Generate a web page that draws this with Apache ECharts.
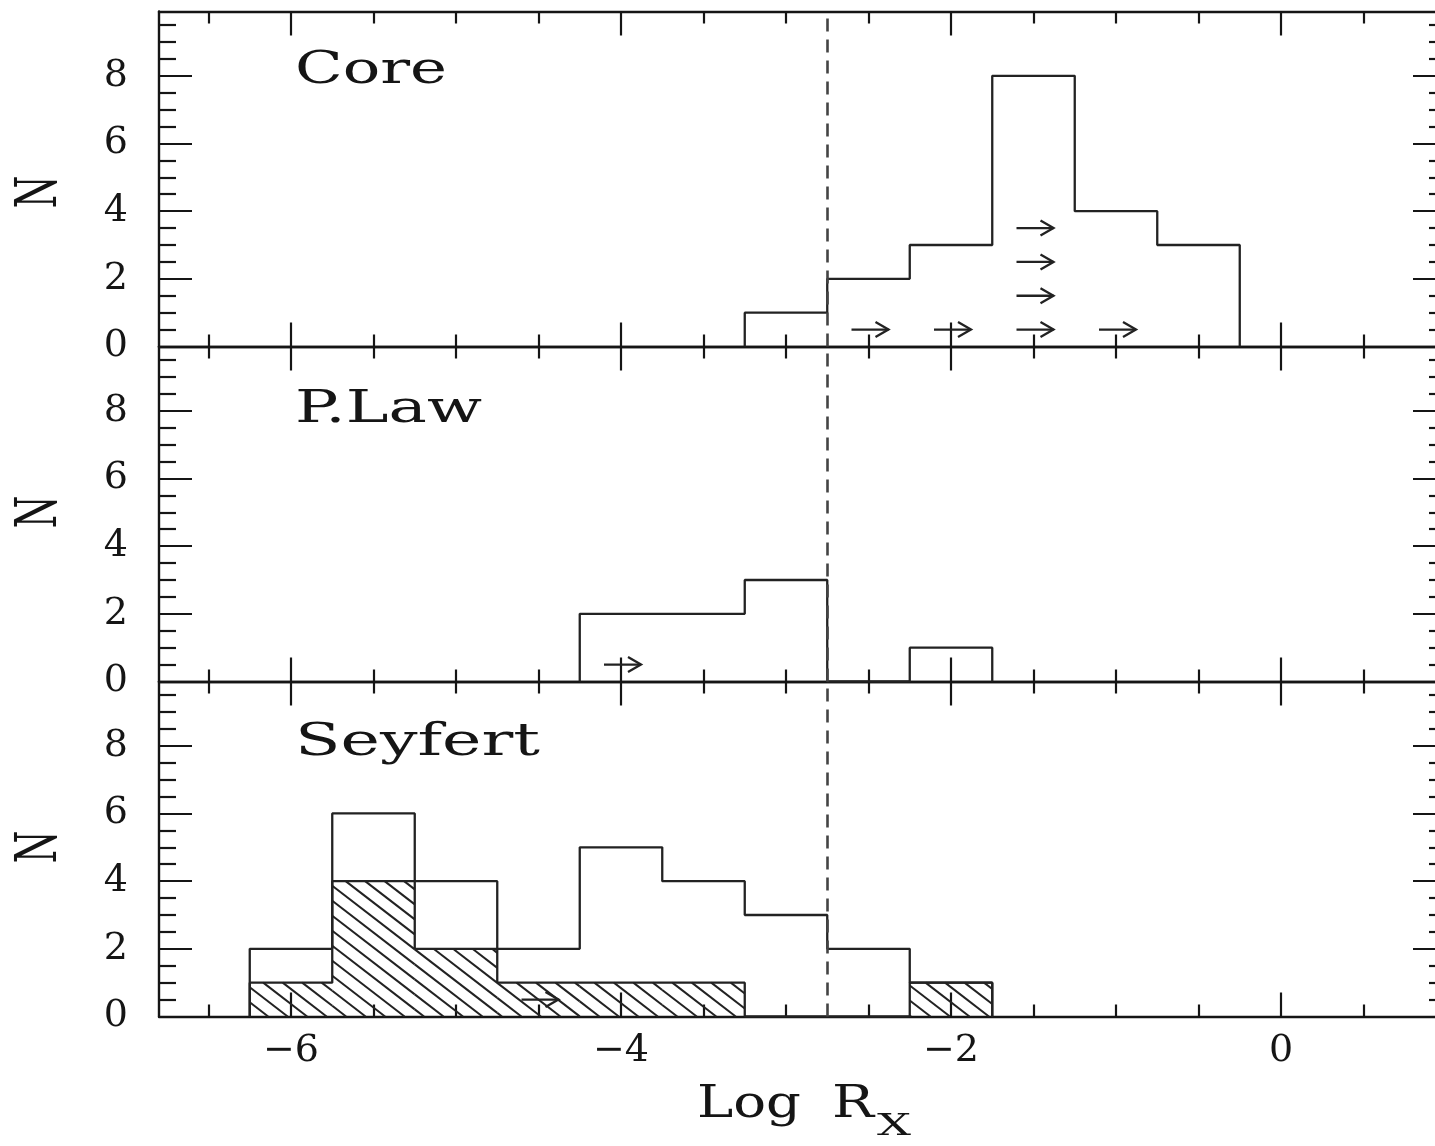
<!DOCTYPE html>
<html><head><meta charset="utf-8">
<script src="https://cdn.jsdelivr.net/npm/echarts@6/dist/echarts.min.js"></script>
<style>html,body{margin:0;padding:0;background:#fff}#c{width:1435px;height:1146px}</style>
</head><body><div id="c"></div>
<script>
// ---------- data ----------
const xRange = [-6.8, 1.0];
const yRange = [0, 9.9];
const xMajorTicks = [-6, -4, -2, 0];
const xMinorTicks = [-6.5, -5.5, -5, -4.5, -3.5, -3, -2.5, -1.5, -1, -0.5, 0.5];
const yMajorTicks = [0, 2, 4, 6, 8];
const yMinorTicks = [0.5, 1, 1.5, 2.5, 3, 3.5, 4.5, 5, 5.5, 6.5, 7, 7.5, 8.5, 9, 9.5];
const dividerX = -2.75;
const panelNames = ['Core', 'P.Law', 'Seyfert'];
const yAxisTitle = 'N';
const xAxisTitle = 'Log R';
const xAxisTitleSub = 'X';

const coreEdges  = [-3.25, -2.75, -2.25, -1.75, -1.25, -0.75, -0.25];
const coreCounts = [1, 2, 3, 8, 4, 3];
const coreArrows = [[-2.5, 0.5], [-2.0, 0.5], [-1.5, 0.5], [-1.5, 1.5], [-1.5, 2.5], [-1.5, 3.5], [-1.0, 0.5]];

const plawEdges  = [-4.25, -3.75, -3.25, -2.75, -2.25, -1.75];
const plawCounts = [2, 2, 3, 0, 1];
const plawArrows = [[-4.0, 0.5]];

const seyEdges       = [-6.25, -5.75, -5.25, -4.75, -4.25, -3.75, -3.25, -2.75, -2.25, -1.75];
const seyCounts      = [2, 6, 4, 2, 5, 4, 3, 2, 1];
const seyHatchCounts = [1, 4, 2, 1, 1, 1, 0, 0, 1];
const seyArrows = [[-4.5, 0.5]];

// ---------- layout / style ----------
const INK = '#151515';
const LINE = '#222222';
const GRID_LEFT = 159, GRID_W = 1287;
const GRID_TOPS = [11.5, 346.5, 681.5], GRID_H = 335;
const tickFont = '"DejaVu Serif"';

function stepData(edges, counts) {
  const d = [[edges[0], 0]];
  counts.forEach((c, i) => { d.push([edges[i], c]); d.push([edges[i + 1], c]); });
  d.push([edges[edges.length - 1], 0]);
  return d;
}
function binData(edges, counts) {
  return counts.map((c, i) => [edges[i], edges[i + 1], c]);
}
const fmt = v => (v < 0 ? '\u2212' + Math.abs(v) : String(v));

const grids = [], xAxes = [], yAxes = [];
GRID_TOPS.forEach((top, g) => {
  grids.push({ left: GRID_LEFT, top: top, width: GRID_W, height: GRID_H, containLabel: false, outerBoundsMode: 'none' });
  const lineOn = { show: true, onZero: false, lineStyle: { color: INK, width: 2.4 } };
  const lineOff = { show: false, onZero: false };
  const isBottom = g === 2;
  const mkX = (pos, major) => ({
    type: 'value', gridIndex: g, position: pos, min: xRange[0], max: xRange[1],
    axisLine: major ? lineOn : lineOff,
    axisTick: { show: true, inside: true, length: major ? 24 : 12, customValues: major ? xMajorTicks : xMinorTicks, lineStyle: { color: INK, width: 2.2 } },
    axisLabel: (major && pos === 'bottom' && isBottom)
      ? { show: true, customValues: xMajorTicks, formatter: fmt, margin: 16, fontFamily: tickFont, fontSize: 38, color: INK }
      : { show: false },
    splitLine: { show: false }
  });
  xAxes.push(mkX('bottom', true), mkX('bottom', false), mkX('top', true), mkX('top', false));
  const mkY = (pos, major) => ({
    type: 'value', gridIndex: g, position: pos, min: yRange[0], max: yRange[1],
    axisLine: major ? lineOn : lineOff,
    axisTick: { show: true, inside: true, length: major ? 33 : 17, customValues: major ? yMajorTicks : yMinorTicks, lineStyle: { color: INK, width: 2.2 } },
    axisLabel: (major && pos === 'left')
      ? { show: true, customValues: yMajorTicks, margin: 31, fontFamily: tickFont, fontSize: 38, color: INK }
      : { show: false },
    splitLine: { show: false }
  });
  yAxes.push(mkY('left', true), mkY('left', false), mkY('right', true), mkY('right', false));
});

const dashLine = {
  symbol: 'none', silent: true, animation: false,
  label: { show: false },
  lineStyle: { type: [13, 8], color: '#444', width: 2.6 },
  data: [{ xAxis: dividerX }]
};

function outlineSeries(g, edges, counts, withMark) {
  const s = {
    type: 'line', xAxisIndex: 4 * g, yAxisIndex: 4 * g, data: stepData(edges, counts),
    symbol: 'none', animation: false, silent: true,
    lineStyle: { color: LINE, width: 2.3 }, z: 3
  };
  if (withMark) s.markLine = dashLine;
  return s;
}

function arrowSeries(g, pts) {
  return {
    type: 'custom', xAxisIndex: 4 * g, yAxisIndex: 4 * g, data: pts, animation: false, silent: true, z: 4,
    renderItem(params, api) {
      const p = api.coord([api.value(0), api.value(1)]);
      const x = p[0], y = p[1];
      const st = { stroke: LINE, lineWidth: 2.3, fill: null };
      return {
        type: 'group', children: [
          { type: 'line', shape: { x1: x - 17, y1: y, x2: x + 20, y2: y }, style: st },
          { type: 'polyline', shape: { points: [[x + 7, y - 7.5], [x + 20, y], [x + 7, y + 7.5]] }, style: st }
        ]
      };
    }
  };
}

function hatchSeries(g, bins) {
  return {
    type: 'custom', xAxisIndex: 4 * g, yAxisIndex: 4 * g, data: bins, animation: false, silent: true, z: 2,
    renderItem(params, api) {
      const v = api.value(2);
      if (!v) return { type: 'group', children: [] };
      const p0 = api.coord([api.value(0), 0]);
      const p1 = api.coord([api.value(1), v]);
      const L = p0[0], R = p1[0], B = p0[1], T = p1[1];
      const s = 0.77, gap = 15;
      const children = [];
      const cMin = T - s * R, cMax = B - s * L;
      for (let k = Math.ceil(cMin / gap); k * gap <= cMax; k++) {
        const c = k * gap;
        const xa = Math.max(L, (T - c) / s), xb = Math.min(R, (B - c) / s);
        if (xb - xa > 0.5) {
          children.push({ type: 'line', shape: { x1: xa, y1: s * xa + c, x2: xb, y2: s * xb + c }, style: { stroke: LINE, lineWidth: 2 } });
        }
      }
      return { type: 'group', children };
    }
  };
}

const series = [
  outlineSeries(0, coreEdges, coreCounts, true),
  arrowSeries(0, coreArrows),
  outlineSeries(1, plawEdges, plawCounts, true),
  arrowSeries(1, plawArrows),
  hatchSeries(2, binData(seyEdges, seyHatchCounts)),
  outlineSeries(2, seyEdges, seyHatchCounts, false),
  outlineSeries(2, seyEdges, seyCounts, true),
  arrowSeries(2, seyArrows)
];

// ---------- text (wide plotting font imitated by horizontal scaling) ----------
const mctx = document.createElement('canvas').getContext('2d');
function fitScale(text, font, w) { mctx.font = font; return w / mctx.measureText(text).width; }
const bigFont = '44px "DejaVu Serif"';
function txt(text, x, y, font, scaleX, extra) {
  return Object.assign({
    type: 'text', x: x, y: y, scaleX: scaleX, silent: true, z: 10,
    style: { text: text, font: font, fill: INK, align: 'left', verticalAlign: 'middle', textAlign: 'left', textVerticalAlign: 'middle' }
  }, extra || {});
}
const panelLabelPos = [[295, 71.5, 152], [295, 411, 187], [295, 743.5, 245]];
const nPos = [192, 512, 847];
const graphics = [];
panelNames.forEach((name, i) => {
  const [x, y, w] = panelLabelPos[i];
  graphics.push(txt(name, x, y, bigFont, fitScale(name, bigFont, w)));
});
nPos.forEach(y => {
  graphics.push({
    type: 'text', x: 41, y: y, rotation: Math.PI / 2, scaleX: 0.85, scaleY: 1.3, silent: true, z: 10,
    style: { text: yAxisTitle, font: bigFont, fill: INK, align: 'center', verticalAlign: 'middle', textAlign: 'center', textVerticalAlign: 'middle' }
  });
});
graphics.push(txt('Log', 697, 1106, bigFont, fitScale('Log', bigFont, 104)));
graphics.push(txt('R', 832, 1106, bigFont, fitScale('R', bigFont, 42)));
const subFont = '30px "DejaVu Serif"';
graphics.push(txt(xAxisTitleSub, 877, 1127, subFont, fitScale(xAxisTitleSub, subFont, 34)));

const chart = echarts.init(document.getElementById('c'), null, { renderer: 'canvas' });
chart.setOption({
  backgroundColor: '#ffffff',
  animation: false,
  grid: grids,
  xAxis: xAxes,
  yAxis: yAxes,
  series: series,
  graphic: graphics
});
</script>
</body></html>
